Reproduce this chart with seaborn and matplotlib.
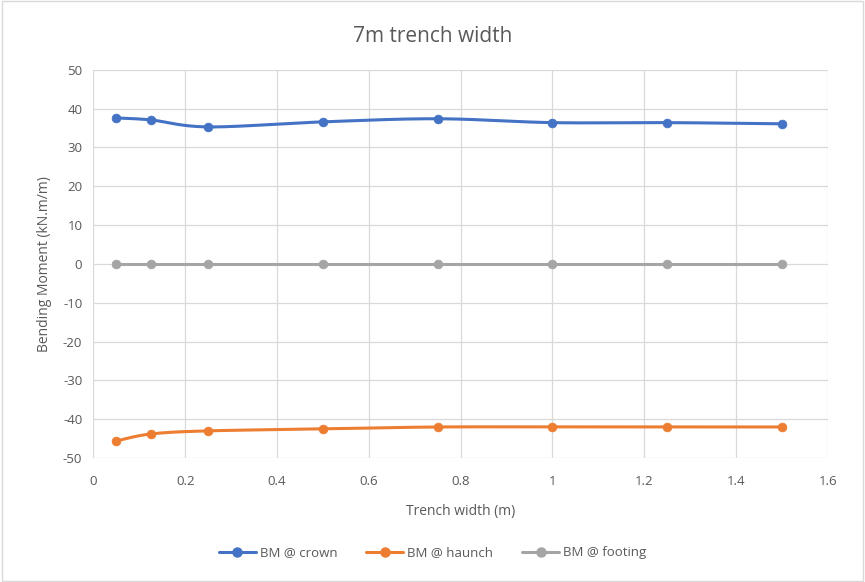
import seaborn as sns
import matplotlib.pyplot as plt
import numpy as np
import pandas as pd
from matplotlib.lines import Line2D

width = [0.05, 0.125, 0.25, 0.5, 0.75, 1.0, 1.25, 1.5]
crown = [37.6, 37.1, 35.3, 36.6, 37.4, 36.4, 36.4, 36.1]
haunch = [-45.6, -43.8, -43.0, -42.5, -42.0, -42.0, -42.0, -42.0]
footing = [0, 0, 0, 0, 0, 0, 0, 0]

names = ["BM @ crown", "BM @ haunch", "BM @ footing"]
colors = ["#4472C4", "#ED7D31", "#A5A5A5"]

sns.set_style("white")
plt.rcParams['font.family'] = ['Open Sans', 'DejaVu Sans']
plt.rcParams['axes.unicode_minus'] = False
txt = "#595959"


def smooth(x, y, sx=460.0, sy=3.88, n=30):
    # catmull-rom in screen-ish space, like excel's smoothed line
    px = np.array(x) * sx
    py = np.array(y) * sy
    P = np.column_stack([px, py])
    P = np.vstack([P[0], P, P[-1]])
    out = []
    for i in range(1, len(P) - 2):
        p0, p1, p2, p3 = P[i - 1], P[i], P[i + 1], P[i + 2]
        t = np.linspace(0, 1, n)[:, None]
        c = 0.5 * ((2 * p1) + (-p0 + p2) * t + (2 * p0 - 5 * p1 + 4 * p2 - p3) * t ** 2
                   + (-p0 + 3 * p1 - 3 * p2 + p3) * t ** 3)
        out.append(c if i == 1 else c[1:])
    out = np.vstack(out)
    return out[:, 0] / sx, out[:, 1] / sy


fig = plt.figure(figsize=(8.65, 5.82), dpi=100)
ax = fig.add_axes([0.108, 0.213, 0.849, 0.667])

for name, vals, col in zip(names, [crown, haunch, footing], colors):
    sx, sy = smooth(width, vals)
    ax.plot(sx, sy, color=col, lw=2.2, zorder=3)
    df = pd.DataFrame({"w": width, "v": vals})
    sns.scatterplot(data=df, x="w", y="v", ax=ax, color=col, s=40,
                    edgecolor=col, zorder=4, legend=False)

ax.set_xlim(0, 1.6)
ax.set_ylim(-50, 50)
ax.set_xticks(np.arange(0, 1.61, 0.2))
ax.set_xticklabels(["0", "0.2", "0.4", "0.6", "0.8", "1", "1.2", "1.4", "1.6"])
ax.set_yticks(np.arange(-50, 51, 10))
ax.grid(True, color="#D9D9D9", lw=0.9)
ax.set_axisbelow(True)
for s in ax.spines.values():
    s.set_visible(False)
ax.tick_params(colors=txt, labelsize=9.5, length=0)
ax.tick_params(axis="x", pad=12)
ax.tick_params(axis="y", pad=8)
ax.set_xlabel("Trench width (m)", color=txt, fontsize=10, labelpad=12)
ax.set_ylabel("Bending Moment (kN.m/m)", color=txt, fontsize=10, labelpad=8)
fig.suptitle("7m trench width", y=0.955, fontsize=15, color=txt)

handles = [Line2D([0], [0], color=c, lw=2.2, marker="o", markersize=6.5) for c in colors]
fig.legend(handles, names, loc="center", bbox_to_anchor=(0.5, 0.05), ncol=3,
           frameon=False, fontsize=9.5, labelcolor=txt, handlelength=2.8,
           columnspacing=2.2, handletextpad=0.3)

fig.patches.append(plt.Rectangle((0.002, 0.002), 0.996, 0.996, transform=fig.transFigure,
                                 fill=False, edgecolor="#D9D9D9", lw=1))
fig.savefig("out.png", dpi=100)
